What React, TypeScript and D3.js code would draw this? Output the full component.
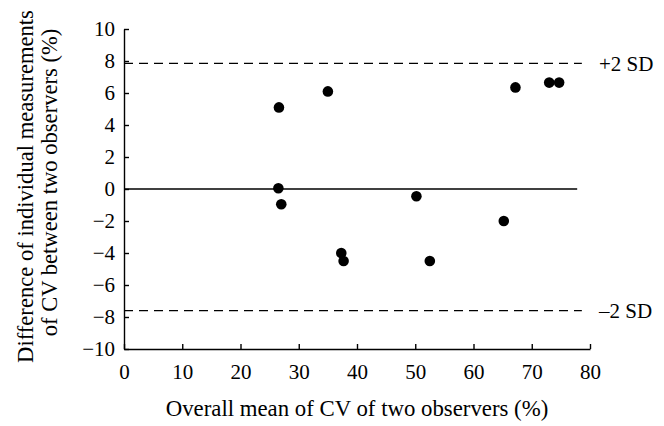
import React, { useRef, useEffect } from 'react';
import * as d3 from 'd3';

// mean of the two observers (%) and their difference (%)
const meanCV = [26.6, 35.0, 26.5, 27.0, 50.2, 67.2, 73.0, 74.7, 37.3, 37.7, 52.5, 65.2];
const diffCV = [5.1, 6.1, 0.05, -0.95, -0.45, 6.35, 6.65, 6.65, -4.0, -4.5, -4.5, -2.0];

const xTicks = [0, 10, 20, 30, 40, 50, 60, 70, 80];
const yTicks = [-10, -8, -6, -4, -2, 0, 2, 4, 6, 8, 10];

const upperLimit = 7.85;
const lowerLimit = -7.6;
const limitLabels = ['+2 SD', '\u20132 SD'];
const lineEnd = 78.6;
const zeroEnd = 77.8;

const font = '"Liberation Serif", "Times New Roman", serif';

export default function App() {
    const svgRef = useRef<SVGSVGElement>(null);

    useEffect(() => {
        const svg = d3.select(svgRef.current);
        svg.selectAll('*').remove();

        const x = d3.scaleLinear().domain([0, 80]).range([124, 590]);
        const y = d3.scaleLinear().domain([-10, 10]).range([349, 29]);

        const xAxis = d3.axisBottom(x).tickValues(xTicks).tickSizeInner(-5).tickSizeOuter(0).tickPadding(15);
        const gx = svg.append('g').attr('transform', `translate(0,${y(-10)})`).call(xAxis);

        const yAxis = d3.axisLeft(y).tickValues(yTicks).tickSizeInner(-5).tickSizeOuter(0).tickPadding(9);
        const gy = svg.append('g').attr('transform', `translate(${x(0)},0)`).call(yAxis);

        [gx, gy].forEach(g => {
            g.attr('font-family', font).attr('font-size', 21);
            g.selectAll('path, line').attr('stroke', '#000').attr('stroke-width', 1.4);
            g.selectAll('text').attr('fill', '#000');
        });

        // zero line
        svg.append('line')
            .attr('x1', x(0)).attr('x2', x(zeroEnd))
            .attr('y1', y(0)).attr('y2', y(0))
            .attr('stroke', '#000').attr('stroke-width', 1.4);

        // +/- 2 SD limits
        [upperLimit, lowerLimit].forEach((v, i) => {
            svg.append('line')
                .attr('x1', x(0)).attr('x2', x(lineEnd))
                .attr('y1', y(v)).attr('y2', y(v))
                .attr('stroke', '#000').attr('stroke-width', 1.2)
                .attr('stroke-dasharray', '9,6');
            svg.append('text')
                .attr('x', 599).attr('y', y(v)).attr('dy', '0.35em')
                .attr('font-family', font).attr('font-size', 21)
                .text(limitLabels[i]);
        });

        svg.selectAll('.dot')
            .data(meanCV)
            .join('circle')
            .attr('class', 'dot')
            .attr('cx', d => x(d))
            .attr('cy', (d, i) => y(diffCV[i]))
            .attr('r', 5.3)
            .attr('fill', '#000');

        svg.append('text')
            .attr('x', (x(0) + x(80)) / 2).attr('y', 416)
            .attr('text-anchor', 'middle')
            .attr('font-family', font).attr('font-size', 22.8)
            .text('Overall mean of CV of two observers (%)');

        const titleLines = ['Difference of individual measurements', 'of CV between two observers (%)'];
        titleLines.forEach((t, i) => {
            svg.append('text')
                .attr('transform', `translate(${33 + i * 24},${186.5 - i * 4}) rotate(-90)`)
                .attr('text-anchor', 'middle')
                .attr('font-family', font).attr('font-size', 22.6)
                .text(t);
        });
    }, []);

    return (
        <svg ref={svgRef} width={664} height={426}
            style={{ position: 'absolute', left: 0, top: 0, background: '#fff' }} />
    );
}
